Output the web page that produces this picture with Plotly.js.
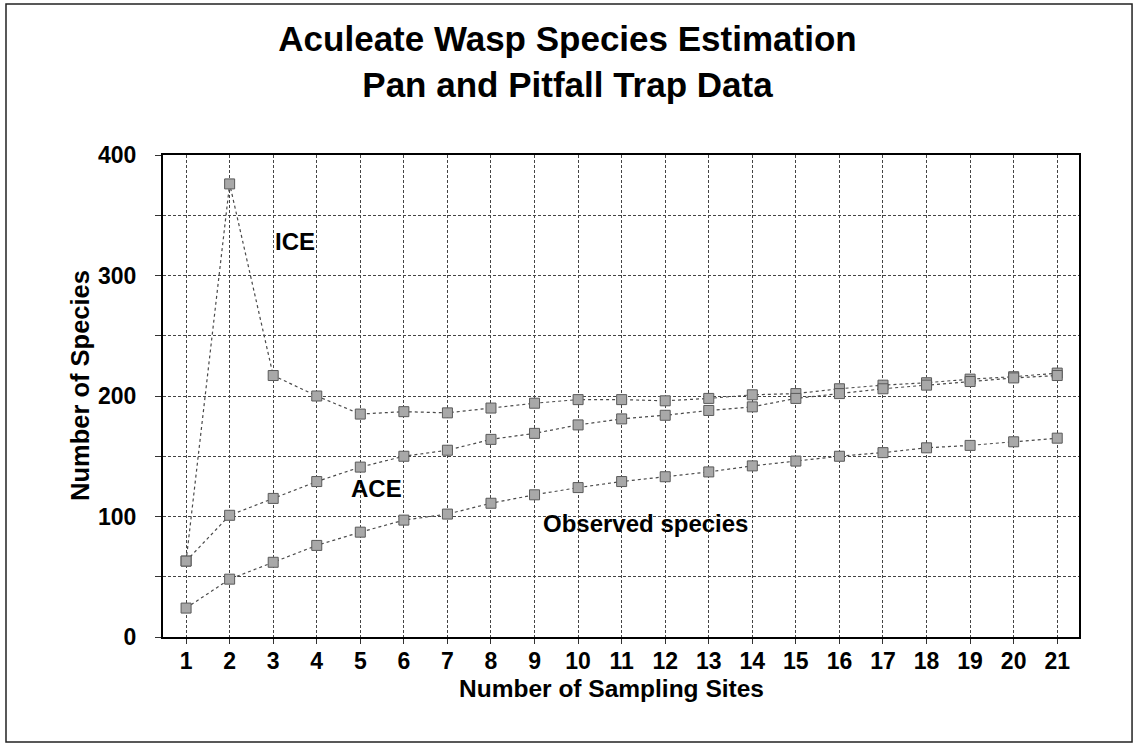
<!DOCTYPE html>
<html>
<head>
<meta charset="utf-8">
<script src="https://cdn.plot.ly/plotly-3.0.1.min.js"></script>
<style>
  html, body { margin: 0; padding: 0; background: #ffffff; }
  #chart { width: 1135px; height: 746px; }
</style>
</head>
<body>
<div id="chart"></div>
<script>
// ---- data ----
const sites = [1, 2, 3, 4, 5, 6, 7, 8, 9, 10, 11, 12, 13, 14, 15, 16, 17, 18, 19, 20, 21];
const observedSpecies = [24, 48, 62, 76, 87, 97, 102, 111, 118, 124, 129, 133, 137, 142, 146, 150, 153, 157, 159, 162, 165];
const aceEstimate = [63, 101, 115, 129, 141, 150, 155, 164, 169, 176, 181, 184, 188, 191, 198, 202, 206, 209, 212, 215, 217];
const iceEstimate = [63, 376, 217, 200, 185, 187, 186, 190, 194, 197, 197, 196, 198, 201, 202, 206, 209, 211, 214, 216, 219];
const yTickValues = [0, 100, 200, 300, 400];
const seriesLabels = ["ICE", "ACE", "Observed species"];
const labelPositions = [[3.5, 328], [5.38, 123], [11.55, 94]];
const chartTitle = "Aculeate Wasp Species Estimation<br>Pan and Pitfall Trap Data";
const xTitle = "Number of Sampling Sites";
const yTitle = "Number of Species";

const FONT = "'Liberation Sans', Arial, sans-serif";

function series(name, ys) {
  return {
    type: "scatter",
    mode: "lines+markers",
    name: name,
    x: sites,
    y: ys,
    line: { color: "#4a4a4a", width: 1.2, dash: "dot" },
    marker: { symbol: "square", size: 10, color: "#a8a8a8", line: { color: "#5a5a5a", width: 1 } },
    hoverinfo: "x+y+name"
  };
}

const data = [
  series("ICE", iceEstimate),
  series("ACE", aceEstimate),
  series("Observed species", observedSpecies)
];

const annotations = seriesLabels.map((t, i) => ({
  x: labelPositions[i][0], y: labelPositions[i][1],
  xref: "x", yref: "y",
  text: "<b>" + t + "</b>",
  showarrow: false,
  xanchor: "center", yanchor: "middle",
  font: { family: FONT, size: 24, color: "#000000" }
}));

// axis titles placed as annotations (paper coords) to match the reference position
annotations.push({
  x: (80 - 163) / 916, y: (637 - 386) / 482,
  xref: "paper", yref: "paper",
  text: "<b>" + yTitle + "</b>",
  textangle: -90,
  showarrow: false,
  xanchor: "center", yanchor: "middle",
  font: { family: FONT, size: 25.5, color: "#000000" }
});
annotations.push({
  x: (611 - 163) / 916, y: (637 - 688) / 482,
  xref: "paper", yref: "paper",
  text: "<b>" + xTitle + "</b>",
  showarrow: false,
  xanchor: "center", yanchor: "middle",
  font: { family: FONT, size: 24.5, color: "#000000" }
});

const layout = {
  width: 1135,
  height: 746,
  paper_bgcolor: "#ffffff",
  plot_bgcolor: "#ffffff",
  showlegend: false,
  margin: { l: 163, r: 56, t: 155, b: 109 },
  font: { family: FONT, color: "#000000" },
  title: {
    text: "<b>" + chartTitle + "</b>",
    x: 0.5, xref: "container", xanchor: "center",
    y: 0.931, yref: "container", yanchor: "middle",
    font: { family: FONT, size: 35, color: "#000000" }
  },
  xaxis: {
    range: [0.47, 21.5],
    tickvals: sites,
    ticktext: sites.map(String),
    ticks: "outside", ticklen: 5, tickcolor: "#333333", tickwidth: 1,
    showline: true, linecolor: "#000000", linewidth: 2, mirror: true,
    showgrid: true, gridcolor: "#444444", gridwidth: 1, griddash: "3px,2px",
    zeroline: false,
    tickfont: { family: FONT, size: 23, color: "#000000", weight: "bold" },
    ticklabelstandoff: -3
  },
  yaxis: {
    range: [0, 400],
    tickvals: yTickValues,
    ticktext: yTickValues.map(String),
    ticks: "outside", ticklen: 6, tickcolor: "#333333", tickwidth: 1,
    showline: true, linecolor: "#000000", linewidth: 2, mirror: true,
    showgrid: true, gridcolor: "#444444", gridwidth: 1, griddash: "3px,2px",
    zeroline: false,
    minor: { dtick: 50, ticks: "outside", ticklen: 6, tickcolor: "#333333", showgrid: true, gridcolor: "#444444", gridwidth: 1, griddash: "3px,2px" },
    tickfont: { family: FONT, size: 23, color: "#000000", weight: "bold" },
    ticklabelstandoff: 14
  },
  annotations: annotations,
  shapes: [
    { type: "rect", xref: "paper", yref: "paper", x0: -0.1714, x1: 1.0579, y0: -0.2178, y1: 1.3133,
      line: { color: "#222222", width: 1.5 }, fillcolor: "rgba(0,0,0,0)", layer: "below" }
  ]
};

Plotly.newPlot("chart", data, layout, { displayModeBar: false, staticPlot: true });
</script>
</body>
</html>
